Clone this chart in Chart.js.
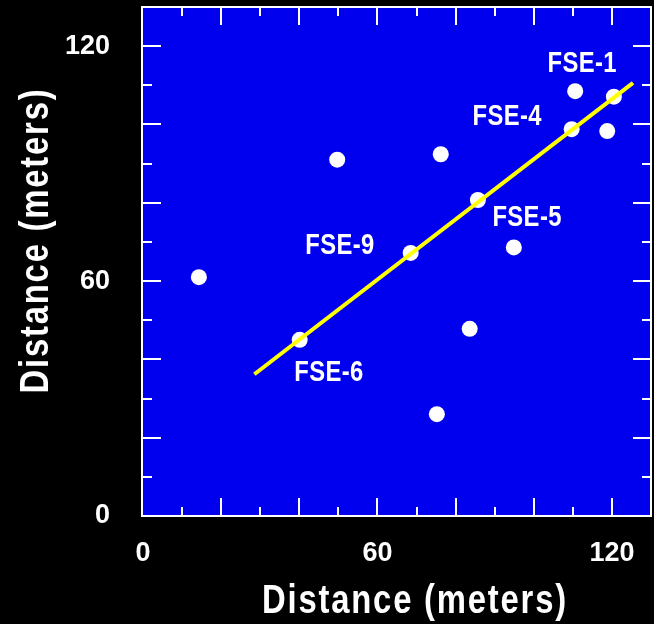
<!DOCTYPE html>
<html><head><meta charset="utf-8">
<script src="https://cdn.jsdelivr.net/npm/chart.js@4"></script>
<style>html,body{margin:0;padding:0;background:#000;overflow:hidden}</style>
</head><body>
<canvas id="c" width="654" height="624"></canvas>
<script>
// ---- data ----
const wellX = [14.3, 49.7, 76.2, 110.6, 120.5, 109.7, 118.8, 85.7, 68.5, 94.9, 83.6, 40.1, 75.2];
const wellY = [61.0, 91.0, 92.4, 108.5, 107.1, 98.8, 98.3, 80.7, 67.2, 68.6, 47.8, 45.0, 26.0];
const fitX = [28.5, 125.4];
const fitY = [36.2, 110.6];
const labelText = ['FSE-1', 'FSE-4', 'FSE-5', 'FSE-9', 'FSE-6'];
const labelX = [112.4, 93.2, 98.3, 50.4, 47.6];
const labelY = [116.2, 102.5, 76.7, 69.6, 37.2];
const xTickLabels = [0, 60, 120];
const yTickLabels = [0, 60, 120];
const tickMarks = [10, 20, 30, 40, 50, 60, 70, 80, 90, 100, 110, 120];
const axisMin = 0, axisMax = 130;
const xTitle = 'Distance (meters)';
const yTitle = 'Distance (meters)';

const FONT = "'Liberation Sans', Arial, sans-serif";
const NARROW = 0.82;
const BLUE = '#0000EE';

function narrowText(ctx, text, x, y, spacing) {
  ctx.save();
  ctx.translate(x, y);
  ctx.scale(NARROW, 1);
  ctx.letterSpacing = (spacing || 0) + 'px';
  ctx.fillText(text, 0, 0);
  ctx.restore();
}

const framePlugin = {
  id: 'frame',
  beforeDraw(chart) {
    const {ctx, chartArea: a} = chart;
    ctx.save();
    ctx.fillStyle = '#000';
    ctx.fillRect(0, 0, chart.width, chart.height);
    ctx.fillStyle = BLUE;
    ctx.fillRect(a.left, a.top, a.right - a.left, a.bottom - a.top);
    ctx.restore();
  },
  afterDraw(chart) {
    const {ctx, chartArea: a, scales} = chart;
    const xs = scales.x, ys = scales.y;
    ctx.save();
    ctx.strokeStyle = '#fff';
    ctx.lineWidth = 2;
    ctx.strokeRect(a.left - 1, a.top, a.right - a.left + 1, a.bottom - a.top);
    ctx.beginPath();
    tickMarks.forEach(v => {
      const len = v % 20 === 0 ? 18 : 9;
      const px = Math.round(xs.getPixelForValue(v));
      const py = Math.round(ys.getPixelForValue(v));
      ctx.moveTo(px, a.bottom); ctx.lineTo(px, a.bottom - len);
      ctx.moveTo(px, a.top); ctx.lineTo(px, a.top + len);
      ctx.moveTo(a.left, py); ctx.lineTo(a.left + len, py);
      ctx.moveTo(a.right, py); ctx.lineTo(a.right - len, py);
    });
    ctx.stroke();

    // point labels
    ctx.fillStyle = '#fff';
    ctx.font = 'bold 29px ' + FONT;
    ctx.textAlign = 'center';
    ctx.textBaseline = 'alphabetic';
    labelText.forEach((t, i) => {
      narrowText(ctx, t, xs.getPixelForValue(labelX[i]), ys.getPixelForValue(labelY[i]) + 10.5, 0.5);
    });

    // axis titles
    ctx.font = 'bold 40px ' + FONT;
    ctx.textAlign = 'center';
    narrowText(ctx, xTitle, (a.left + a.right) / 2 + 18, a.bottom + 97, 2.2);
    ctx.save();
    ctx.translate(a.left - 95, (a.top + a.bottom) / 2 - 21);
    ctx.rotate(-Math.PI / 2);
    narrowText(ctx, yTitle, 0, 0, 2.2);
    ctx.restore();
    ctx.restore();
  }
};

new Chart(document.getElementById('c'), {
  type: 'scatter',
  data: {
    datasets: [
      {
        type: 'line',
        data: fitX.map((x, i) => ({x, y: fitY[i]})),
        borderColor: '#FFFF00',
        borderWidth: 4,
        pointRadius: 0,
        fill: false,
        order: 0
      },
      {
        data: wellX.map((x, i) => ({x, y: wellY[i]})),
        backgroundColor: '#FFFFFF',
        borderWidth: 0,
        pointRadius: 8,
        order: 1
      }
    ]
  },
  options: {
    responsive: false,
    animation: false,
    devicePixelRatio: 1,
    layout: {autoPadding: false, padding: {top: 7, right: 3, left: 0, bottom: 0}},
    plugins: {legend: {display: false}, tooltip: {enabled: false}},
    scales: {
      x: {
        type: 'linear', min: axisMin, max: axisMax,
        grid: {display: false, drawTicks: false},
        border: {display: false},
        afterBuildTicks: s => { s.ticks = xTickLabels.map(v => ({value: v})); },
        afterFit: s => { s.height = 108; s.paddingLeft = 0; s.paddingRight = 0; },
        ticks: {color: '#fff', padding: 21, maxRotation: 0, autoSkip: false,
                font: {family: FONT, size: 27, weight: 'bold'}}
      },
      y: {
        type: 'linear', min: axisMin, max: axisMax,
        grid: {display: false, drawTicks: false},
        border: {display: false},
        afterBuildTicks: s => { s.ticks = yTickLabels.map(v => ({value: v})); },
        afterFit: s => { s.width = 143; s.paddingTop = 0; s.paddingBottom = 0; },
        ticks: {color: '#fff', padding: 33, autoSkip: false,
                font: {family: FONT, size: 27, weight: 'bold'}}
      }
    }
  },
  plugins: [framePlugin]
});
</script>
</body></html>
